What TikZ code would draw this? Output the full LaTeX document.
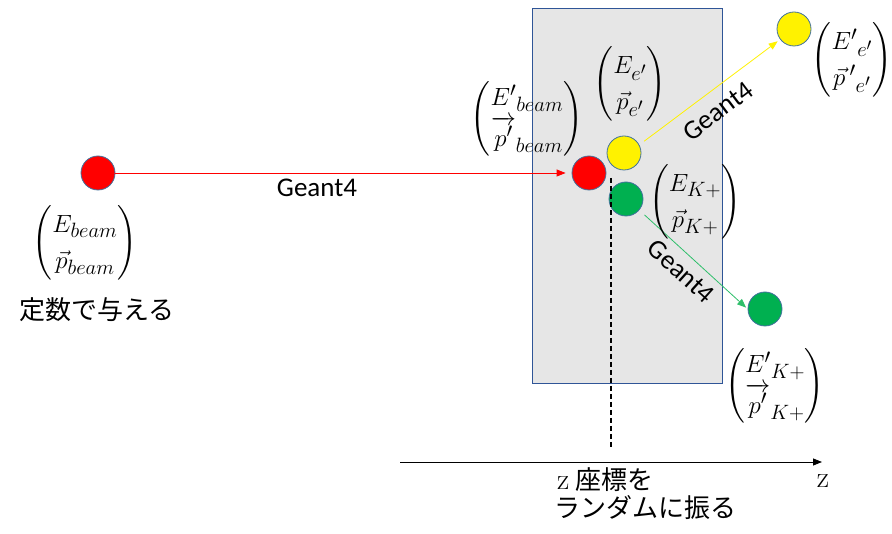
\documentclass[tikz,border=0pt]{standalone}
\usepackage{amsmath}
\usepackage{fontspec}
\newfontfamily\jpfont{Noto Sans CJK JP}
\newfontfamily\geantfont{Carlito}
\usetikzlibrary{arrows.meta}
\DeclareMathSizes{28}{28}{21}{16}
\definecolor{balledge}{HTML}{41719C}
\definecolor{boxedge}{HTML}{2F5597}
\definecolor{boxfill}{HTML}{E6E6E6}
\definecolor{kgreen}{HTML}{00B050}
\definecolor{lgreen}{HTML}{2EBF6A}
\renewcommand{\arraystretch}{1.1}
\newcommand{\pvecprime}{\overrightarrow{p'\vphantom{A^{\prime\prime}}}}
\begin{document}
\begin{tikzpicture}[x=1pt,y=-1pt,
  ball/.style={circle, draw=balledge, line width=0.8pt, minimum size=34pt, inner sep=0pt},
  mlabel/.style={font=\fontsize{28}{33}\selectfont, inner sep=0pt},
  glabel/.style={font=\geantfont\fontsize{27}{32}\selectfont, inner sep=0pt},
  jlabel/.style={font=\jpfont\fontsize{26}{31}\selectfont, inner sep=0pt},
  arr/.style={-{Triangle[length=9pt,width=7pt]}, line width=0.8pt}]
\fill[white] (0,0) rectangle (892,534);
\useasboundingbox (0,0) rectangle (892,534);
% target box
\node[draw=boxedge, fill=boxfill, line width=0.8pt, minimum width=190pt, minimum height=375pt, inner sep=0pt] (target) at (627,195.5) {};
% particles
\node[ball, fill=red] (r1) at (98,173) {};
\node[ball, fill=red] (r2) at (589,173) {};
\node[ball, fill=yellow] (y1) at (624,153) {};
\node[ball, fill=yellow] (y2) at (794,29) {};
\node[ball, fill=kgreen] (g1) at (626,199) {};
\node[ball, fill=kgreen] (g2) at (765,309) {};
% dashed position line
\coordinate (d0) at (611,178);
\coordinate (d1) at (611,448);
\draw[dash pattern=on 5pt off 3pt, line width=1.6pt] (d0) -- (d1);
% tracks
\draw[arr, red, shorten >=6pt] (r1) -- (r2);
\draw[arr, yellow, shorten <=6pt, shorten >=3pt] (y1.28) -- (y2.217);
\draw[arr, lgreen, shorten <=7pt, shorten >=2pt] (g1.-40) -- (g2.west);
% Geant4 labels
\node[glabel] (gl1) at (317,188) {Geant4};
\node[glabel, rotate=37] (gl2) at (718,111) {Geant4};
\node[glabel, rotate=-42] (gl3) at (681,271) {Geant4};
% four-vectors
\node[mlabel] (m1) at (85,243) {$\begin{pmatrix}E_{beam}\\ \vec{p}_{beam}\end{pmatrix}$};
\node[mlabel] (m2) at (527,119) {$\begin{pmatrix}{E'}_{beam}\\ \pvecprime_{beam}\end{pmatrix}$};
\node[mlabel] (m3) at (630,84) {$\begin{pmatrix}E_{e'}\\ \vec{p}_{e'}\end{pmatrix}$};
\node[mlabel] (m4) at (695,202) {$\begin{pmatrix}E_{K+}\\ \vec{p}_{K+}\end{pmatrix}$};
\node[mlabel] (m5) at (852,60) {$\begin{pmatrix}{E'}_{e'}\\ {\vec{p}\,'}_{e'}\end{pmatrix}$};
\node[mlabel] (m6) at (775,386) {$\begin{pmatrix}{E'}_{K+}\\ \pvecprime_{K+}\end{pmatrix}$};
% Japanese notes
\node[jlabel] (c1) at (97,310) {定数で与える};
\node[jlabel] (c2) at (605,480) {{\rmfamily\fontsize{30}{34}\selectfont z} 座標を};
\node[jlabel] (c3) at (645,508) {ランダムに振る};
% z axis
\coordinate (a0) at (400,462);
\coordinate (a1) at (822,462);
\draw[arr, black] (a0) -- (a1);
\node[font=\fontsize{30}{34}\selectfont, inner sep=0pt] (zl) at (823,481) {z};
\end{tikzpicture}
\end{document}
